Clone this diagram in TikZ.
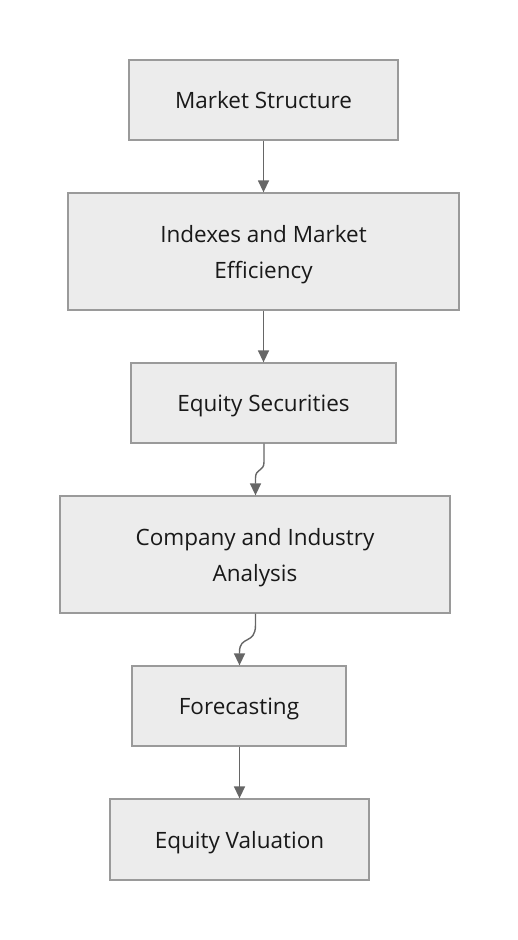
\documentclass[tikz,border=0pt]{standalone}
\usepackage{fontspec}
\setmainfont{Open Sans}
\usetikzlibrary{arrows.meta}
\definecolor{boxfill}{HTML}{ECECEC}
\definecolor{boxdraw}{HTML}{9A9A9A}
\definecolor{linecol}{HTML}{666666}
\tikzset{
  box/.style={draw=boxdraw, fill=boxfill, line width=1.3pt, inner sep=0pt, align=center, font=\fontsize{22.5}{36}\selectfont, text=black!90},
  conn/.style={draw=linecol, line width=1.4pt, -{Triangle[length=12pt,width=11pt]}}
}
\begin{document}
\begin{tikzpicture}[x=1pt,y=-1pt]
\useasboundingbox (0,0) rectangle (518,940);
\node[box, minimum width=269pt, minimum height=80pt, text depth=0pt] (ms) at (263.5,100) {Market Structure};
\node[box, minimum width=391pt, minimum height=117pt, text depth=-3pt] (ix) at (263.5,251.5) {Indexes and Market\\Efficiency};
\node[box, minimum width=265pt, minimum height=80pt, text depth=0pt] (es) at (263.5,403) {Equity Securities};
\node[box, minimum width=390pt, minimum height=117pt, text depth=-3pt] (ca) at (255,554.5) {Company and Industry\\Analysis};
\node[box, minimum width=214pt, minimum height=80pt, text depth=0pt] (fc) at (239,706) {Forecasting};
\node[box, minimum width=259pt, minimum height=81pt, text depth=0pt] (ev) at (239.5,839.5) {Equity Valuation};
\draw[conn] (ms.south) -- (ix.north);
\draw[conn] (ix.south) -- (es.north);
\coordinate (c1) at (264,462);
\coordinate (c2) at (255.5,478);
\draw[conn] (es.south -| c1) -- (c1) .. controls (264,472) and (255.5,468) .. (c2) -- (c2 |- ca.north);
\coordinate (c3) at (255.5,625);
\coordinate (c4) at (239.5,652);
\draw[conn] (ca.south -| c3) -- (c3) .. controls (255.5,645) and (239.5,635) .. (c4) -- (c4 |- fc.north);
\coordinate (c5) at (239.5,750);
\draw[conn] (fc.south -| c5) -- (ev.north -| c5);
\end{tikzpicture}
\end{document}
